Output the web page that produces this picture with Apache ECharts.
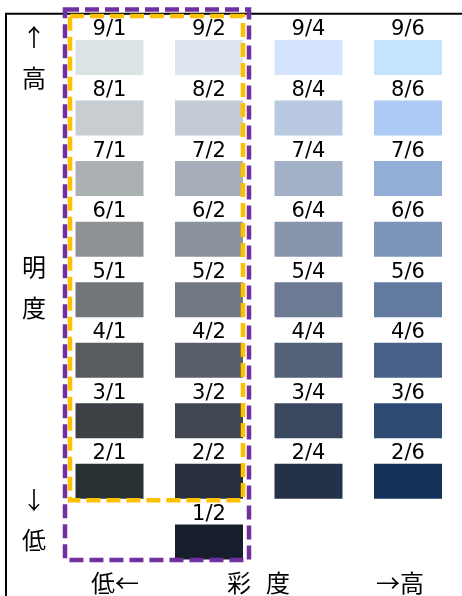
<!DOCTYPE html>
<html>
<head>
<meta charset="utf-8">
<script src="https://cdn.jsdelivr.net/npm/echarts@6/dist/echarts.min.js"></script>
<style>
html,body{margin:0;padding:0;background:#fff;}
#main{width:462px;height:596px;}
</style>
</head>
<body>
<div id="main"></div>
<script>
// Chroma levels (columns) and value levels (rows)
const chromaLevels = ['1', '2', '4', '6'];
const valueLevels = ['1', '2', '3', '4', '5', '6', '7', '8', '9'];

// Colours per chroma column, indexed by value 1..9 (null = no chip)
const chroma1Colors = [null, '#293133', '#3D4044', '#585B5F', '#727579', '#8E9297', '#ABB0B3', '#C8CDD1', '#DCE3E5'];
const chroma2Colors = ['#181E2B', '#2A2F3D', '#414752', '#5A606B', '#727884', '#8D939E', '#A8AEB9', '#C5CBD4', '#DEE5EF'];
const chroma4Colors = [null, '#243249', '#39475F', '#536179', '#6C7B93', '#8796AD', '#A2B0C8', '#B9C9E1', '#D4E4FC'];
const chroma6Colors = [null, '#13335A', '#2D4A72', '#486188', '#637BA0', '#7C95BB', '#93AED6', '#ADCAF4', '#C4E4FE'];

const columnColors = [chroma1Colors, chroma2Colors, chroma4Colors, chroma6Colors];

const chipData = [];
columnColors.forEach(function (cols, ci) {
  cols.forEach(function (c, vi) {
    if (c) chipData.push([ci, vi, c, valueLevels[vi] + '/' + chromaLevels[ci]]);
  });
});

const chart = echarts.init(document.getElementById('main'), null, {renderer: 'canvas'});

const CHIP_W = 68, CHIP_H = 35;

chart.setOption({
  animation: false,
  backgroundColor: '#ffffff',
  grid: {left: 59.75, width: 398, top: 27.2, height: 545},
  xAxis: {type: 'category', data: chromaLevels, show: false},
  yAxis: {type: 'category', data: valueLevels, show: false},
  series: [{
    type: 'custom',
    data: chipData,
    renderItem: function (params, api) {
      const p = api.coord([api.value(0), api.value(1)]);
      const d = chipData[params.dataIndex];
      return {
        type: 'group',
        children: [
          {type: 'rect', shape: {x: p[0] - CHIP_W / 2, y: p[1] - CHIP_H / 2, width: CHIP_W, height: CHIP_H}, style: {fill: d[2]}},
          {type: 'text', style: {text: d[3], x: p[0], y: p[1] - CHIP_H / 2 - 10, align: 'center', verticalAlign: 'middle', font: '21px "DejaVu Sans"', fill: '#000'}}
        ]
      };
    }
  }]
});

// Frame boxes derived from chip positions
const c0 = chart.convertToPixel({gridIndex: 0}, [0, 8]);
const c1 = chart.convertToPixel({gridIndex: 0}, [1, 0]);
const c2r = chart.convertToPixel({gridIndex: 0}, [1, 1]);

const cjk = '"Noto Sans CJK JP"';
const cjkFont = '24px ' + cjk;
function txt(t, x, y) {
  return {type: 'text', z: 10, style: {text: t, x: x, y: y, align: 'center', verticalAlign: 'middle', font: cjkFont, fill: '#000'}};
}

chart.setOption({
  graphic: [
    {type: 'line', z: 5, shape: {x1: 5, y1: 13.7, x2: 462, y2: 13.7}, style: {stroke: '#000', lineWidth: 2}},
    {type: 'line', z: 5, shape: {x1: 6, y1: 13, x2: 6, y2: 596}, style: {stroke: '#000', lineWidth: 2}},
    {type: 'rect', z: 20, shape: {x: c0[0] - 44.5, y: c0[1] - 48, width: (c1[0] + 40) - (c0[0] - 44.5), height: (c1[1] + 18) - (c0[1] - 48)},
      style: {fill: 'none', stroke: '#7030A0', lineWidth: 4.5, lineDash: [14, 6]}},
    {type: 'rect', z: 21, shape: {x: c0[0] - 39.5, y: c0[1] - 41.5, width: (c2r[0] + 34) - (c0[0] - 39.5), height: (c2r[1] + 19) - (c0[1] - 41.5)},
      style: {fill: 'none', stroke: '#FFC000', lineWidth: 4.5, lineDash: [14, 6]}},
    txt('↑', 34, 37),
    txt('高', 34, 78),
    txt('明', 34, 267),
    txt('度', 34, 308),
    txt('↓', 34, 500),
    txt('低', 34, 540),
    txt('低←', 115, 583),
    txt('彩', 239, 583),
    txt('度', 278, 583),
    txt('→高', 400, 583)
  ]
});
</script>
</body>
</html>
